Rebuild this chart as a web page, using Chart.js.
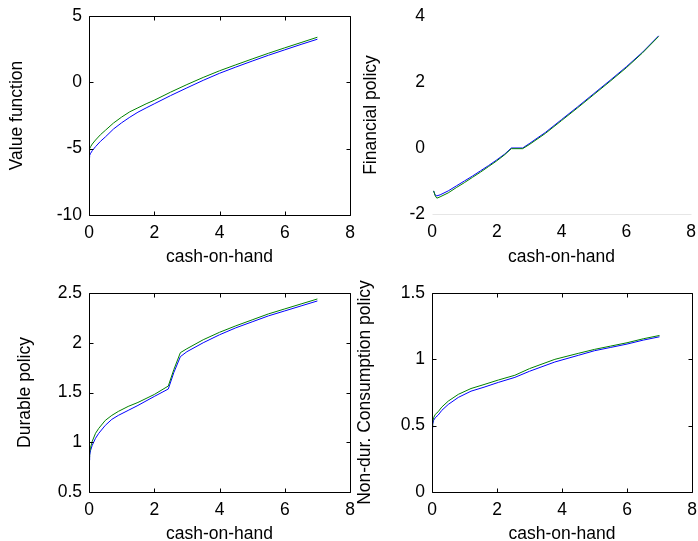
<!DOCTYPE html>
<html>
<head>
<meta charset="utf-8">
<script src="https://cdn.jsdelivr.net/npm/chart.js@4"></script>
<style>
  body { margin: 0; background: #fff; }
  #wrap { position: relative; width: 698px; height: 541px; }
  canvas { position: absolute; }
</style>
</head>
<body>
<div id="wrap">
  <canvas id="c1" width="360" height="270" style="left:0;top:0"></canvas>
  <canvas id="c2" width="349" height="270" style="left:349px;top:0"></canvas>
  <canvas id="c3" width="360" height="271" style="left:0;top:270px"></canvas>
  <canvas id="c4" width="349" height="271" style="left:349px;top:270px"></canvas>
</div>
<script>
// value function
const valueX = [0, 0.02, 0.05, 0.1, 0.2, 0.35, 0.5, 0.75, 1, 1.25, 1.5, 1.75, 2, 2.5, 3, 3.5, 4, 4.5, 5, 5.5, 6, 6.5, 7]
const valueBlue = [-5.66, -5.5, -5.35, -5.15, -4.85, -4.45, -4.12, -3.52, -3.05, -2.63, -2.25, -1.93, -1.62, -1.0, -0.42, 0.15, 0.68, 1.15, 1.6, 2.04, 2.45, 2.86, 3.25]
const valueGreen = [-5.15, -5.0, -4.85, -4.65, -4.35, -3.95, -3.62, -3.07, -2.62, -2.22, -1.92, -1.62, -1.35, -0.74, -0.17, 0.37, 0.87, 1.32, 1.76, 2.19, 2.6, 3.0, 3.4]

// financial policy
const finX = [0.05, 0.1, 0.15, 0.25, 0.5, 0.75, 1, 1.25, 1.5, 1.75, 2, 2.25, 2.45, 2.8, 3, 3.5, 4, 4.5, 5, 5.5, 6, 6.5, 7]
const finBlue = [-1.3, -1.43, -1.45, -1.42, -1.3, -1.15, -1.0, -0.85, -0.69, -0.53, -0.36, -0.18, 0.0, 0.0, 0.13, 0.47, 0.86, 1.25, 1.65, 2.05, 2.46, 2.9, 3.4]
const finGreen = [-1.3, -1.45, -1.52, -1.48, -1.36, -1.2, -1.05, -0.89, -0.73, -0.56, -0.39, -0.2, -0.02, -0.02, 0.1, 0.44, 0.83, 1.22, 1.62, 2.02, 2.43, 2.88, 3.38]

// durable policy
const durX = [0, 0.02, 0.05, 0.1, 0.2, 0.3, 0.5, 0.7, 0.9, 1.2, 1.5, 2, 2.43, 2.6, 2.8, 3, 3.5, 4, 4.5, 5, 5.5, 6, 6.5, 7]
const durBlue = [0.82, 0.87, 0.92, 0.97, 1.04, 1.09, 1.17, 1.23, 1.27, 1.32, 1.37, 1.46, 1.535, 1.70, 1.86, 1.91, 2.00, 2.08, 2.15, 2.21, 2.27, 2.32, 2.37, 2.42]
const durGreen = [0.85, 0.9, 0.95, 1.01, 1.09, 1.14, 1.22, 1.27, 1.31, 1.36, 1.40, 1.48, 1.565, 1.73, 1.90, 1.94, 2.03, 2.105, 2.17, 2.23, 2.29, 2.34, 2.39, 2.44]

// non-durable consumption
const ndX = [0, 0.02, 0.05, 0.1, 0.19, 0.3, 0.5, 0.81, 1.2, 1.6, 2.04, 2.55, 3, 3.78, 4.5, 5, 5.5, 6, 6.5, 7]
const ndBlue = [0.48, 0.51, 0.54, 0.56, 0.58, 0.615, 0.66, 0.713, 0.76, 0.79, 0.826, 0.864, 0.91, 0.98, 1.03, 1.065, 1.09, 1.115, 1.145, 1.17]
const ndGreen = [0.49, 0.53, 0.56, 0.585, 0.605, 0.64, 0.685, 0.736, 0.78, 0.81, 0.844, 0.88, 0.93, 1.0, 1.045, 1.075, 1.10, 1.125, 1.155, 1.18]

const FONT = { family: '"Liberation Sans", Arial, sans-serif', size: 17.5 }

// matlab style box with inward ticks (full) or just a faint bottom line
function boxPlugin(full) {
    return {
        id: 'box',
        afterDraw(chart) {
            const c = chart.ctx
            const a = chart.chartArea
            const xs = chart.scales.x
            const ys = chart.scales.y
            const L = Math.round(a.left) + 0.5, R = Math.round(a.right) + 0.5
            const T = Math.round(a.top) + 0.5, B = Math.round(a.bottom) + 0.5
            c.save()
            c.lineWidth = 1
            c.beginPath()
            if (full) {
                c.strokeStyle = '#000'
                c.rect(L, T, R - L, B - T)
                xs.ticks.forEach(t => {
                    const px = Math.round(xs.getPixelForValue(t.value)) + 0.5
                    c.moveTo(px, B); c.lineTo(px, B - 4)
                    c.moveTo(px, T); c.lineTo(px, T + 4)
                })
                ys.ticks.forEach(t => {
                    const py = Math.round(ys.getPixelForValue(t.value)) + 0.5
                    c.moveTo(L, py); c.lineTo(L + 4, py)
                    c.moveTo(R, py); c.lineTo(R - 4, py)
                })
            } else {
                c.strokeStyle = '#e6e6e6'
                c.moveTo(L, B)
                c.lineTo(R, B)
            }
            c.stroke()
            c.restore()
        }
    }
}

function toPoints(xs, ys) {
    return xs.map((x, i) => ({ x: x, y: ys[i] }))
}

const fmt = v => String(Math.round(v * 100) / 100)

function makeChart(id, xs, blue, green, o) {
    new Chart(document.getElementById(id), {
        type: 'line',
        data: {
            datasets: [
                { data: toPoints(xs, green), borderColor: '#008000', borderWidth: 1 },
                { data: toPoints(xs, blue), borderColor: '#0000ff', borderWidth: 1 }
            ]
        },
        options: {
            responsive: false,
            animation: false,
            events: [],
            elements: { point: { radius: 0 }, line: { tension: 0 } },
            layout: { padding: { left: 0, top: o.top, right: o.right, bottom: 0 } },
            plugins: { legend: { display: false }, tooltip: { enabled: false } },
            scales: {
                x: {
                    type: 'linear', min: 0, max: 8,
                    ticks: { stepSize: 2, color: '#000', font: FONT, padding: 8, maxRotation: 0, callback: fmt },
                    grid: { display: false, drawTicks: false },
                    border: { display: false },
                    title: { display: true, text: 'cash-on-hand', color: '#000', font: FONT, padding: { top: 0, bottom: o.xt } },
                    afterFit: s => { s.height = o.xh; s.paddingLeft = 0; s.paddingRight = 0 }
                },
                y: {
                    min: o.ymin, max: o.ymax,
                    ticks: { stepSize: o.step, color: '#000', font: FONT, padding: 7, callback: fmt },
                    grid: { display: false, drawTicks: false },
                    border: { display: false },
                    title: { display: true, text: o.title, color: '#000', font: FONT, padding: { top: o.yt, bottom: 0 } },
                    afterFit: s => { s.width = o.yw; s.paddingTop = 0; s.paddingBottom = 0 }
                }
            }
        },
        plugins: [boxPlugin(o.full)]
    })
}

makeChart('c1', valueX, valueBlue, valueGreen, { title: 'Value function', ymin: -10, ymax: 5, step: 5, top: 16, right: 10, yw: 89, xh: 55, xt: 2, yt: 7, full: true })
makeChart('c2', finX, finBlue, finGreen, { title: 'Financial policy', ymin: -2, ymax: 4, step: 2, top: 16, right: 7, yw: 83, xh: 56, xt: 2, yt: 12, full: false })
makeChart('c3', durX, durBlue, durGreen, { title: 'Durable policy', ymin: 0.5, ymax: 2.5, step: 0.5, top: 23, right: 10, yw: 89, xh: 49, xt: -4, yt: 15, full: true })
makeChart('c4', ndX, ndBlue, ndGreen, { title: 'Non-dur. Consumption policy', ymin: 0, ymax: 1.5, step: 0.5, top: 23, right: 6, yw: 83, xh: 49, xt: -4, yt: 6, full: true })
</script>
</body>
</html>
